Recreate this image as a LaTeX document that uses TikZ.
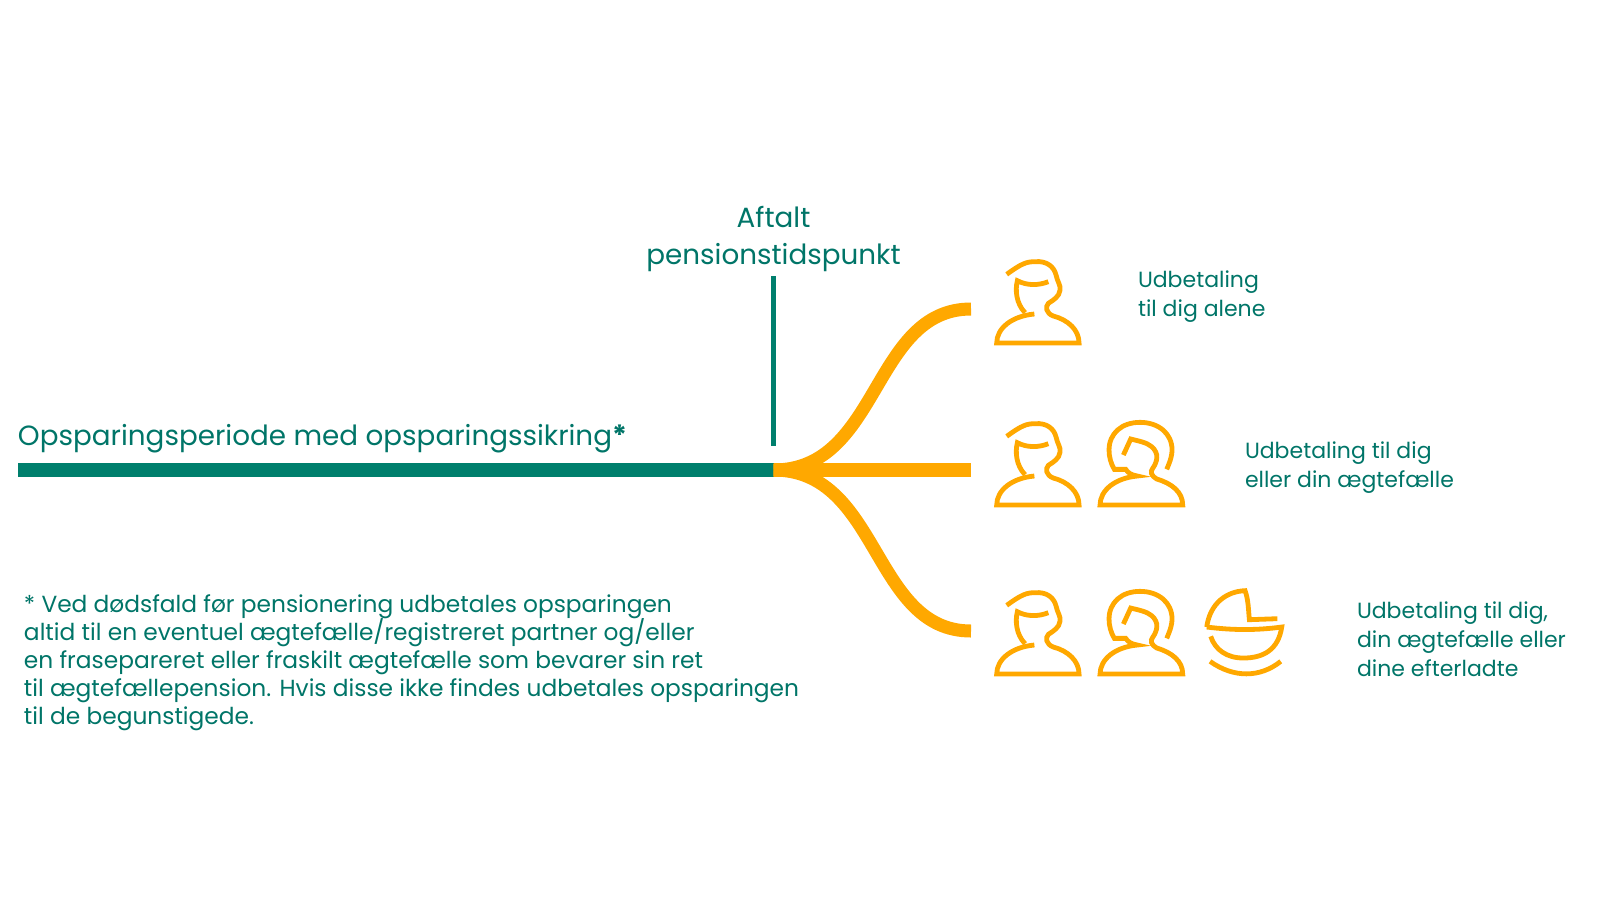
\documentclass[tikz,border=0pt]{standalone}
\usepackage{fontspec}
\setmainfont{Poppins}
\AtBeginDocument{\lineskiplimit=-8pt}
\definecolor{tealgreen}{HTML}{007F6D}
\definecolor{textteal}{HTML}{007568}
\definecolor{amber}{HTML}{FFA800}
\tikzset{
  lbl/.style={inner sep=0pt,outer sep=0pt,text=textteal,anchor=north west,align=left,font=\fontsize{11}{14.5}\selectfont},
  hdg/.style={inner sep=0pt,outer sep=0pt,text=textteal,font=\fontsize{13.9}{18.6}\selectfont},
  icon/.style={amber,line width=2.4pt},
  branch/.style={amber,line width=6.5pt},
  man/.pic={
    \draw [icon] (80,-206) .. controls (125,-239) and (140,-244) .. (165,-244) .. controls (200,-247) and (222,-229) .. (228,-204) .. controls (232,-184) and (242,-174) .. (240,-159) .. controls (238,-139) and (220,-129) .. (205,-119) .. controls (195,-109) and (198,-89) .. (220,-81) .. controls (265,-69) and (297,-39) .. (297,0) -- (50,0) .. controls (50,-44) and (95,-81) .. (163,-87);
    \draw [icon] (205,-184) .. controls (175,-172) and (140,-172) .. (112,-187) .. controls (105,-159) and (108,-119) .. (135,-91);
  },
  woman/.pic={
    \draw [icon] (250,-107) .. controls (262,-135) and (266,-150) .. (266,-165) .. controls (266,-215) and (225,-248) .. (170,-248) .. controls (115,-248) and (77,-215) .. (77,-165) .. controls (77,-145) and (82,-125) .. (93,-107) -- (127,-107) .. controls (135,-95) and (145,-90) .. (162,-87) .. controls (95,-81) and (50,-44) .. (50,0) -- (298,0) .. controls (298,-39) and (265,-65) .. (220,-78) .. controls (203,-88) and (200,-100) .. (208,-110) .. controls (222,-130) and (228,-155) .. (205,-175) .. controls (190,-188) and (165,-192) .. (142,-198) -- (120,-150);
  },
  pram/.pic={
    \draw [icon] (680,-141) .. controls (690,-213) and (740,-248) .. (795,-250) .. controls (805,-223) and (805,-193) .. (808,-163) -- (892,-166);
    \draw [icon] (680,-141) .. controls (760,-131) and (830,-131) .. (905,-141) .. controls (895,-73) and (850,-48) .. (790,-48) .. controls (740,-48) and (705,-73) .. (692,-113);
    \draw [icon] (690,-38) .. controls (760,12) and (840,12) .. (902,-38);
  }
}
\begin{document}
\begin{tikzpicture}[x=0.5pt,y=-0.5pt]
\useasboundingbox (0,0) rectangle (1600,900);
% time line
\coordinate (start) at (18,470);
\coordinate (split) at (773.5,470);
\coordinate (tickTop) at (773.5,276);
\coordinate (tickEnd) at (773.5,446);
\coordinate (endOne) at (971,309);
\coordinate (endTwo) at (971,470);
\coordinate (endThree) at (971,631);
\draw [tealgreen,line width=6.8pt] (start) -- (split);
\draw [tealgreen,line width=2.3pt] (tickTop) -- (tickEnd);
\draw [branch] (split) .. controls (880,470) and (872,309) .. (endOne);
\draw [branch,line width=6.8pt] (split) -- (endTwo);
\draw [branch] (split) .. controls (880,470) and (872,631) .. (endThree);
% labels
\node [hdg,anchor=base west] (period) at (18,445) {Opsparingsperiode med opsparingssikring\textbf{*}};
\node [hdg,align=center,anchor=south] (pension) at (773.5,272) {Aftalt\\pensionstidspunkt};
\node [lbl] (one) at (1138,271) {Udbetaling\\til dig alene};
\node [lbl] (two) at (1245,442) {Udbetaling til dig\\eller din ægtefælle};
\node [lbl] (three) at (1357,602) {Udbetaling til dig,\\din ægtefælle eller\\dine efterladte};
\node [lbl,font=\fontsize{11.65}{14}\selectfont] (note) at (24,595) {* Ved dødsfald før pensionering udbetales opsparingen\\altid til en eventuel ægtefælle/registreret partner og/eller\\en frasepareret eller fraskilt ægtefælle som bevarer sin ret\\til ægtefællepension. Hvis disse ikke findes udbetales opsparingen\\til de begunstigede.};
% icons
\begin{scope}[x=0.16667pt,y=-0.16667pt]
\pic at (2940,1029) {man};
\pic at (2940,1515) {man};
\pic at (2940,2022) {man};
\pic at (3250,1515) {woman};
\pic at (3250,2022) {woman};
\pic at (2940,2022) {pram};
\end{scope}
\end{tikzpicture}
\end{document}
